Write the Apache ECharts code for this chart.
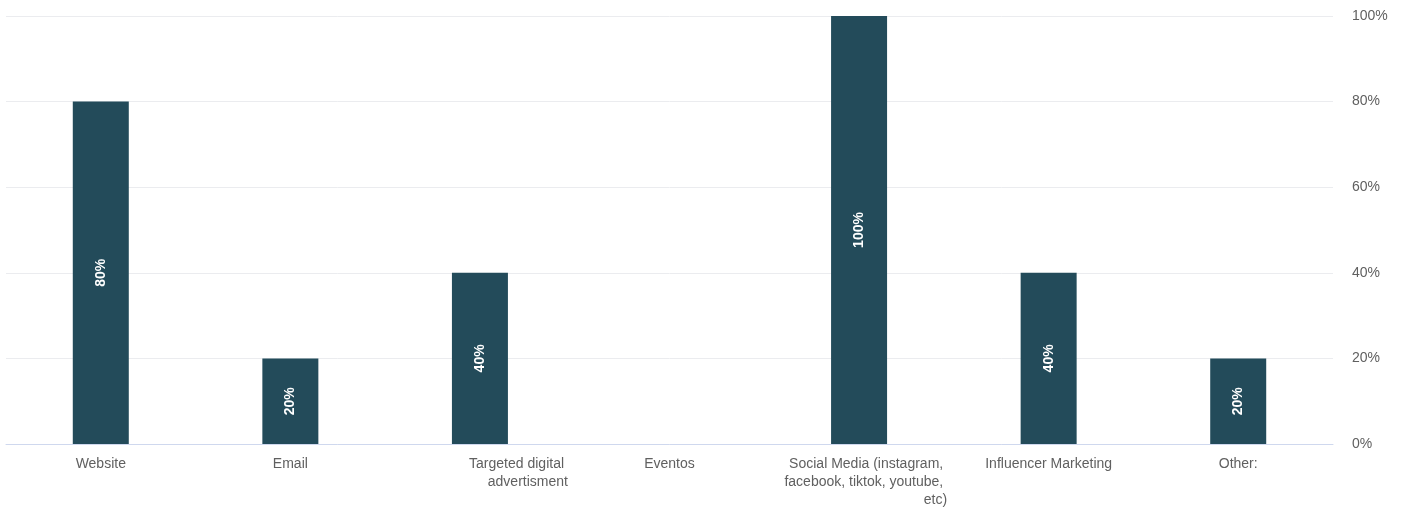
<!DOCTYPE html>
<html>
<head>
<meta charset="utf-8">
<script src="https://cdn.jsdelivr.net/npm/echarts@6/dist/echarts.min.js"></script>
<style>
  html, body { margin: 0; padding: 0; background: #ffffff; }
  #chart { width: 1409px; height: 509px; }
</style>
</head>
<body>
<div id="chart"></div>
<script>
// Channel names along the bottom axis
const categories = [
  'Website',
  'Email',
  'Targeted digital advertisment',
  'Eventos',
  'Social Media (instagram, facebook, tiktok, youtube, etc)',
  'Influencer Marketing',
  'Other:'
];
// Share of respondents per channel (%)
const shares = [80, 20, 40, 0, 100, 40, 20];
// Right-hand axis ticks (%)
const yTicks = [0, 20, 40, 60, 80, 100];

const FONT = '"Liberation Sans", Arial, Helvetica, sans-serif';
const LABEL_WIDTH = 176;

// Labels that need wrapping are right-aligned inside their box
const measureCtx = document.createElement('canvas').getContext('2d');
measureCtx.font = '14px ' + FONT;
function isLong(text) {
  return measureCtx.measureText(text).width > LABEL_WIDTH;
}

const chart = echarts.init(document.getElementById('chart'), null, { renderer: 'canvas' });

chart.setOption({
  animation: false,
  backgroundColor: '#ffffff',
  grid: { left: 6, right: 76, top: 16, bottom: 63, containLabel: false },
  xAxis: {
    type: 'category',
    data: categories,
    z: 3,
    axisTick: { show: false },
    axisLine: { show: true, lineStyle: { color: '#cfd8ee', width: 1 } },
    axisLabel: {
      interval: 0,
      margin: 11,
      width: LABEL_WIDTH,
      overflow: 'break',
      color: '#606060',
      fontFamily: FONT,
      fontSize: 14,
      lineHeight: 18,
      formatter: function (v) { return isLong(v) ? '{r|' + v + '}' : v; },
      rich: {
        r: { align: 'right', color: '#606060', fontFamily: FONT, fontSize: 14, lineHeight: 18 }
      }
    }
  },
  yAxis: {
    type: 'value',
    position: 'right',
    min: yTicks[0],
    max: yTicks[yTicks.length - 1],
    interval: yTicks[1] - yTicks[0],
    axisLine: { show: false },
    axisTick: { show: false },
    splitLine: { lineStyle: { color: '#ebecef', width: 1 } },
    axisLabel: {
      margin: 19,
      color: '#606060',
      fontFamily: FONT,
      fontSize: 14,
      formatter: '{value}%'
    }
  },
  series: [{
    type: 'bar',
    data: shares,
    barWidth: 56,
    itemStyle: { color: '#234b5a' },
    label: {
      show: true,
      position: 'inside',
      rotate: 90,
      color: '#ffffff',
      fontFamily: FONT,
      fontSize: 14,
      fontWeight: 'bold',
      formatter: function (p) { return p.value > 0 ? p.value + '%' : ''; }
    }
  }]
});
</script>
</body>
</html>
